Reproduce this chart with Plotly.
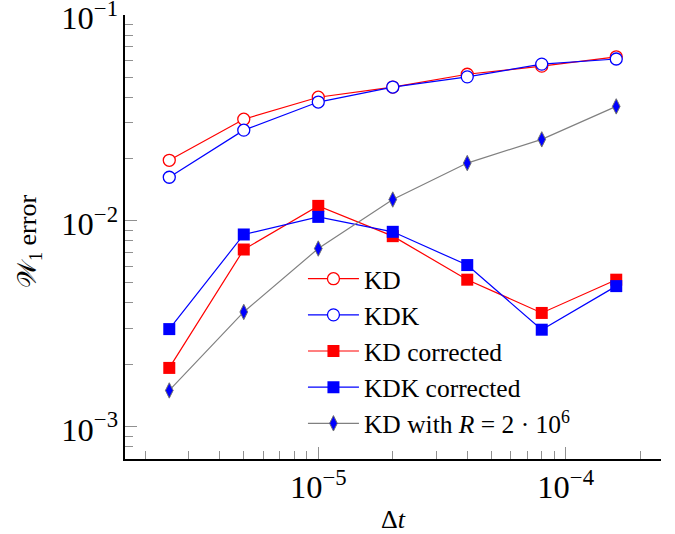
import plotly.graph_objects as go

dt = [2.5e-6, 5e-6, 1e-5, 2e-5, 4e-5, 8e-5, 1.6e-4]
kd = [0.0197, 0.0312, 0.0399, 0.0447, 0.0516, 0.0565, 0.0627]
kdk = [0.0163, 0.0276, 0.0378, 0.0447, 0.0501, 0.0578, 0.0612]
kd_corr = [0.00193, 0.00726, 0.01183, 0.00843, 0.00518, 0.00357, 0.00518]
kdk_corr = [0.00298, 0.00859, 0.01046, 0.00885, 0.0061, 0.00296, 0.00482]
kd_R = [0.00150, 0.00361, 0.00734, 0.0127, 0.0191, 0.0249, 0.0360]

FONT = "Liberation Serif, Times New Roman, serif"

fig = go.Figure()
fig.add_trace(go.Scatter(x=dt, y=kd, name="KD", mode="lines+markers",
                         line=dict(color="#ff0000", width=1.2),
                         marker=dict(symbol="circle", size=12, color="white",
                                     line=dict(color="#ff0000", width=1.3))))
fig.add_trace(go.Scatter(x=dt, y=kdk, name="KDK", mode="lines+markers",
                         line=dict(color="#0000ff", width=1.2),
                         marker=dict(symbol="circle", size=12, color="white",
                                     line=dict(color="#0000ff", width=1.3))))
fig.add_trace(go.Scatter(x=dt, y=kd_corr, name="KD corrected", mode="lines+markers",
                         line=dict(color="#ff0000", width=1.2),
                         marker=dict(symbol="square", size=12, color="#ff0000",
                                     line=dict(color="#ff0000", width=0))))
fig.add_trace(go.Scatter(x=dt, y=kdk_corr, name="KDK corrected", mode="lines+markers",
                         line=dict(color="#0000ff", width=1.2),
                         marker=dict(symbol="square", size=12, color="#0000ff",
                                     line=dict(color="#0000ff", width=0))))
fig.add_trace(go.Scatter(x=dt, y=kd_R, name="KD with <i>R</i> = 2 · 10<sup>6</sup>",
                         mode="lines+markers",
                         line=dict(color="#808080", width=1.2),
                         marker=dict(symbol="diamond-tall", size=11, color="#0000ff",
                                     line=dict(color="#707070", width=1))))

axis_common = dict(
    type="log", showgrid=False, zeroline=False, automargin=False,
    showline=True, linecolor="black", linewidth=1.5,
    ticks="inside", ticklen=12, tickwidth=1, tickcolor="#909090",
    dtick=1, exponentformat="power", showexponent="all",
    ticklabeloverflow="allow",
    tickfont=dict(family=FONT, size=26, color="black"),
    minor=dict(ticks="inside", ticklen=8, tickwidth=1, tickcolor="#909090", dtick="D1"),
    mirror=False,
)

fig.update_layout(
    width=675, height=534,
    margin=dict(l=125, r=14, t=15, b=75),
    paper_bgcolor="white", plot_bgcolor="white",
    font=dict(family=FONT, color="black"),
    xaxis=dict(axis_common, range=[-5.781, -3.615]),
    yaxis=dict(axis_common, range=[-3.157, -0.9995], ticklabelshift=3),
    legend=dict(x=0.332, y=0.458, xanchor="left", yanchor="top",
                font=dict(family=FONT, size=25.5, color="black"),
                itemwidth=51, bgcolor="rgba(0,0,0,0)", borderwidth=0,
                tracegroupgap=0),
    showlegend=True,
    annotations=[
        dict(text="Δ<i>t</i>", xref="paper", yref="paper",
             x=0.5, y=-0.137, xanchor="center", yanchor="middle",
             showarrow=False, font=dict(family=FONT, size=26)),
        dict(text="𝒲<sub>1</sub> error", xref="paper", yref="paper",
             x=-0.178, y=0.49, xanchor="center", yanchor="middle", textangle=-90,
             showarrow=False, font=dict(family=FONT, size=26)),
    ],
)

fig.write_html("out.html", config={"displayModeBar": False},
               post_script="document.body.style.margin='0';document.body.style.padding='0';")
